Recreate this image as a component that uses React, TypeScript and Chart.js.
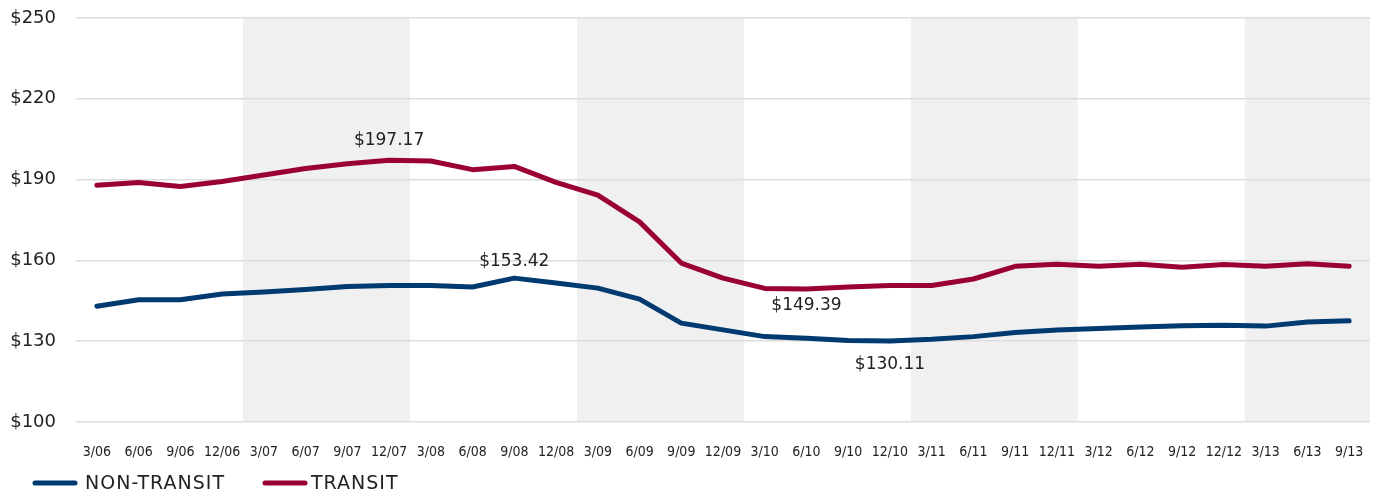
import React, { useEffect, useRef } from "react";
import { Chart, registerables } from "chart.js";

Chart.register(...registerables);

const categories = [
  "3/06", "6/06", "9/06", "12/06", "3/07", "6/07", "9/07", "12/07",
  "3/08", "6/08", "9/08", "12/08", "3/09", "6/09", "9/09", "12/09",
  "3/10", "6/10", "9/10", "12/10", "3/11", "6/11", "9/11", "12/11",
  "3/12", "6/12", "9/12", "12/12", "3/13", "6/13", "9/13",
];

const nonTransit = [
  143.0, 145.4, 145.4, 147.5, 148.3, 149.2, 150.3, 150.7,
  150.7, 150.1, 153.42, 151.6, 149.7, 145.6, 136.7, 134.2,
  131.7, 131.1, 130.3, 130.11, 130.7, 131.7, 133.2, 134.2,
  134.7, 135.3, 135.7, 135.9, 135.6, 137.1, 137.6,
];

const transit = [
  187.9, 188.9, 187.4, 189.3, 191.7, 194.1, 195.9, 197.17,
  196.9, 193.7, 194.9, 189.0, 184.2, 174.3, 159.0, 153.4,
  149.6, 149.39, 150.1, 150.7, 150.7, 153.1, 157.8, 158.6,
  157.8, 158.6, 157.5, 158.5, 157.8, 158.8, 157.8,
];

const seriesNames = ["NON-TRANSIT", "TRANSIT"];
const seriesColors = ["#003a70", "#9b0033"];

// shaded years (category index ranges, inclusive)
const shadedRanges: [number, number][] = [
  [4, 7],
  [12, 15],
  [20, 23],
  [28, 30],
];

// annotations: [series index, category index, text, vertical offset px]
const annotations: [number, number, string, number][] = [
  [1, 7, "$197.17", -20],
  [0, 10, "$153.42", -17],
  [1, 17, "$149.39", 17],
  [0, 19, "$130.11", 24],
];

const yTicks = { min: 100, max: 250, step: 30 };

const FONT = "'DejaVu Sans', sans-serif";

export default function App() {
  const ref = useRef<HTMLCanvasElement | null>(null);

  useEffect(() => {
    if (!ref.current) return;

    const shadePlugin = {
      id: "shade",
      beforeDraw(chart: any) {
        const { ctx, chartArea, scales } = chart;
        const x = scales.x;
        const half = (x.getPixelForValue(1) - x.getPixelForValue(0)) / 2;
        ctx.save();
        ctx.fillStyle = "#f0f0f0";
        for (const [a, b] of shadedRanges) {
          const l = x.getPixelForValue(a) - half;
          const r = Math.min(x.getPixelForValue(b) + half, chartArea.right);
          ctx.fillRect(l, chartArea.top, r - l, chartArea.bottom - chartArea.top);
        }
        ctx.restore();
      },
    };

    const annoPlugin = {
      id: "anno",
      afterDatasetsDraw(chart: any) {
        const { ctx } = chart;
        ctx.save();
        ctx.font = `17px ${FONT}`;
        ctx.fillStyle = "#222";
        ctx.textAlign = "center";
        ctx.textBaseline = "middle";
        for (const [s, i, text, off] of annotations) {
          const el = chart.getDatasetMeta(s).data[i];
          ctx.fillText(text, el.x, el.y + off);
        }
        ctx.restore();
      },
      afterDraw(chart: any) {
        const { ctx } = chart;
        ctx.save();
        const y = 483;
        const items = [
          { x0: 35, x1: 75, tx: 85 },
          { x0: 265, x1: 305, tx: 311 },
        ];
        items.forEach((it, k) => {
          ctx.strokeStyle = seriesColors[k];
          ctx.lineWidth = 5;
          ctx.lineCap = "round";
          ctx.beginPath();
          ctx.moveTo(it.x0, y);
          ctx.lineTo(it.x1, y);
          ctx.stroke();
          ctx.font = `19px ${FONT}`;
          (ctx as any).letterSpacing = "1px";
          ctx.fillStyle = "#222";
          ctx.textAlign = "left";
          ctx.textBaseline = "middle";
          ctx.fillText(seriesNames[k], it.tx, y + 1);
        });
        ctx.restore();
      },
    };

    const chart = new Chart(ref.current, {
      type: "line",
      data: {
        labels: categories,
        datasets: [
          {
            label: seriesNames[0],
            data: nonTransit,
            borderColor: seriesColors[0],
            backgroundColor: seriesColors[0],
            borderWidth: 5,
            pointRadius: 0,
            tension: 0,
            borderCapStyle: "round",
            borderJoinStyle: "round",
          },
          {
            label: seriesNames[1],
            data: transit,
            borderColor: seriesColors[1],
            backgroundColor: seriesColors[1],
            borderWidth: 5,
            pointRadius: 0,
            tension: 0,
            borderCapStyle: "round",
            borderJoinStyle: "round",
          },
        ],
      },
      options: {
        animation: false,
        responsive: false,
        devicePixelRatio: 1,
        layout: { padding: { top: 18, right: 8, left: 0, bottom: 0 } },
        plugins: {
          legend: { display: false },
          tooltip: { enabled: false },
        },
        scales: {
          x: {
            offset: true,
            grid: { display: false, drawTicks: false },
            border: { display: false },
            ticks: {
              autoSkip: false,
              maxRotation: 0,
              padding: 22,
              color: "#222",
              font: { family: "'DejaVu Sans Condensed', 'DejaVu Sans', sans-serif", size: 14 },
            },
            afterFit(scale: any) {
              scale.height = 72;
              scale.paddingLeft = 0;
              scale.paddingRight = 0;
            },
          },
          y: {
            min: yTicks.min,
            max: yTicks.max,
            grid: { color: "#dddddd", lineWidth: 1.5, drawTicks: false },
            border: { display: false },
            ticks: {
              stepSize: yTicks.step,
              padding: 20,
              color: "#222",
              font: { family: FONT, size: 18 },
              callback: (v: any) => "$" + v,
            },
            afterFit(scale: any) {
              scale.width = 76;
              scale.paddingTop = 0;
              scale.paddingBottom = 0;
            },
          },
        },
      },
      plugins: [shadePlugin, annoPlugin],
    } as any);

    return () => chart.destroy();
  }, []);

  return (
    <div style={{ position: "absolute", left: 0, top: 0, width: 1378, height: 494, background: "#fff" }}>
      <canvas ref={ref} width={1378} height={494} />
    </div>
  );
}
